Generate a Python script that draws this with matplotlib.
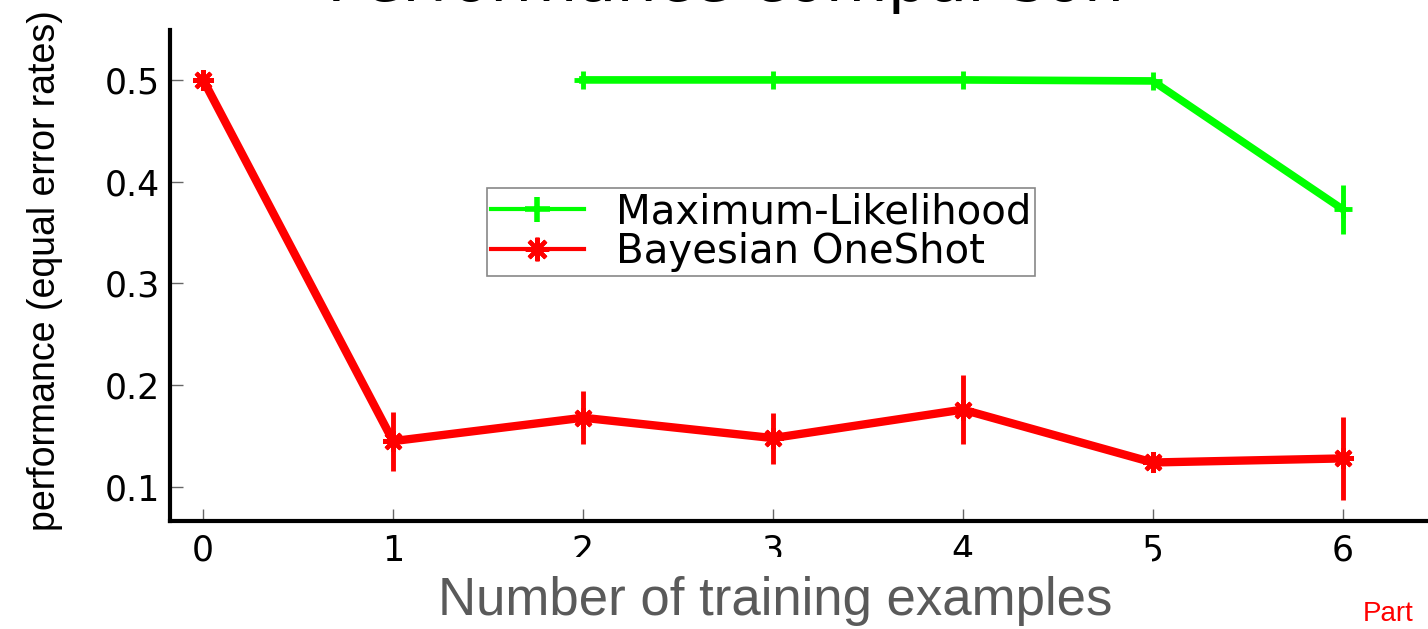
import matplotlib.pyplot as plt
from matplotlib.lines import Line2D

# data
n_train = [0, 1, 2, 3, 4, 5, 6]
bayes = [0.500, 0.145, 0.168, 0.148, 0.176, 0.124, 0.128]
bayes_err = [0.0, 0.029, 0.026, 0.025, 0.034, 0.006, 0.041]
ml_x = [2, 3, 4, 5, 6]
ml = [0.500, 0.500, 0.500, 0.499, 0.373]
ml_err = [0.0, 0.0, 0.0, 0.0, 0.024]
yticks = [0.1, 0.2, 0.3, 0.4, 0.5]
ytick_labels = ['0.1', '0.2', '0.3', '0.4', '0.5']
names = ['Maximum-Likelihood', 'Bayesian OneShot']

GREEN = '#00ff00'
RED = '#ff0000'
AST = (8, 2, 0)  # line asterisk like matlab '*'

plt.rcParams['font.family'] = ['DejaVu Sans']

fig = plt.figure(figsize=(14.28, 6.29), dpi=100)
ax = fig.add_axes([0.119, 0.1717, 0.881, 0.7805])

ax.errorbar(ml_x, ml, yerr=ml_err, color=GREEN, lw=5.5, marker='+',
            ms=13, mew=3.5, elinewidth=3.5, capsize=0)
ax.errorbar(n_train, bayes, yerr=bayes_err, color=RED, lw=6, marker=AST,
            ms=15, mew=3, elinewidth=3.5, capsize=0)

ax.set_xlim(-0.175, 6.45)
ax.set_ylim(0.0665, 0.549)
ax.set_xticks(n_train)
ax.set_yticks(yticks)
ax.set_yticklabels(ytick_labels)
ax.tick_params(direction='in', length=9, width=1, color='#666666', labelsize=25)
ax.tick_params(axis='x', pad=9)
ax.tick_params(axis='y', pad=7)
for s in ['top', 'right']:
    ax.spines[s].set_visible(False)
ax.spines['left'].set_linewidth(3)
ax.spines['bottom'].set_linewidth(3)

ax.set_ylabel('performance (equal error rates)', fontsize=27, family='Liberation Sans')
ax.yaxis.set_label_coords(-0.085, 0.51)

# legend uses thinner lines than the plot
handles = [Line2D([], [], color=GREEN, lw=3, marker='+', ms=18, mew=4),
           Line2D([], [], color=RED, lw=3, marker=AST, ms=17, mew=3)]
leg = ax.legend(handles, names, loc='upper left', bbox_to_anchor=(0.252, 0.678), fontsize=29,
                fancybox=False, edgecolor='#888888', framealpha=1, borderpad=0.1,
                labelspacing=0.0, handlelength=2.3, handletextpad=0.8, borderaxespad=0)
leg.get_frame().set_linewidth(1.2)

# title cut at top of slide
fig.text(0.508, 0.999, 'Performance comparison', fontsize=46, ha='center', va='baseline')

# slide overlay box with axis caption
fig.patches.append(plt.Rectangle((0.288, 0.0), 0.519, 0.1145, transform=fig.transFigure,
                                 facecolor='white', edgecolor='none', zorder=5))
fig.text(0.5427, 0.0445, 'Number of training examples', fontsize=38, color='#5a5a5a',
         ha='center', va='center', zorder=6, family='Liberation Sans')
fig.text(0.954, 0.012, 'Part', fontsize=20, color=RED, ha='left', va='baseline', zorder=6,
         family='Liberation Sans')

fig.savefig('out.png', dpi=100)
